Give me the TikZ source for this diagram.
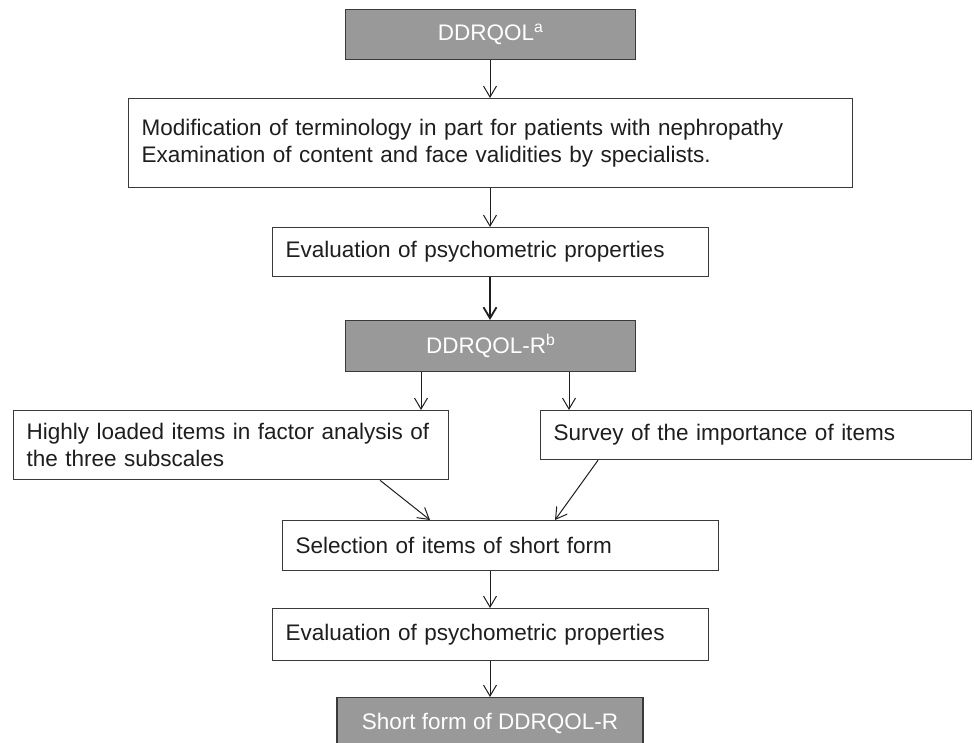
\documentclass[tikz,border=0pt]{standalone}
\usepackage{fontspec}
\setmainfont{Liberation Sans}
\usetikzlibrary{arrows.meta}
\definecolor{boxgray}{HTML}{999999}
\definecolor{edge}{HTML}{3A3A3A}
\definecolor{ink}{HTML}{1E1E1E}
\tikzset{
  box/.style={draw=edge, line width=1.3pt, fill=white, anchor=north west, inner ysep=0pt, inner xsep=13pt,
    text=ink, font=\fontsize{22.5}{27}\selectfont, align=left},
  graybox/.style={draw=edge, line width=1.3pt, fill=boxgray, anchor=north west, inner sep=0pt,
    text=white, font=\fontsize{22.5}{27}\selectfont, align=center},
  arr/.style={draw=ink, line width=1pt, -{Straight Barb[length=11pt,width=13pt]}},
  boldarr/.style={draw=ink, line width=1.8pt, -{Straight Barb[length=11pt,width=13pt]}}
}
\begin{document}
\begin{tikzpicture}[x=1pt,y=-1pt]
\clip (0,0) rectangle (974,743);
\fill[white] (0,0) rectangle (974,743);
% nodes
\node[graybox, minimum width=290pt, minimum height=50pt] (b1) at (345,9) {DDRQOL\textsuperscript{a}};
\node[box, text width=698pt, minimum height=89pt] (b2) at (128,98)
  {Modification of terminology in part for patients with nephropathy\\Examination of content and face validities by specialists.};
\node[box, text width=410pt, minimum height=49pt] (b3) at (272,227) {Evaluation of psychometric properties};
\node[graybox, minimum width=290pt, minimum height=51pt] (b4) at (345,320) {DDRQOL-R\textsuperscript{b}};
\node[box, text width=409pt, minimum height=69pt] (b5) at (13,410)
  {Highly loaded items in factor analysis of\\the three subscales};
\node[box, text width=405pt, minimum height=49pt] (b6) at (540,410) {Survey of the importance of items};
\node[box, text width=410pt, minimum height=50pt] (b7) at (282,520) {Selection of items of short form};
\node[box, text width=410pt, minimum height=52pt] (b8) at (272,608) {Evaluation of psychometric properties};
\node[graybox, minimum width=306pt, minimum height=54pt, anchor=north] (b9) at (490,697) {};
\node[text=white, font=\fontsize{22.5}{27}\selectfont, inner sep=0pt] (t9) at (490,723) {Short form of DDRQOL-R};
% helper x positions
\coordinate (xa) at (490,0);
\coordinate (xl) at (421,0);
\coordinate (xr) at (569,0);
\coordinate (dl1) at (380,0);
\coordinate (dl2) at (430,0);
\coordinate (dr1) at (598,0);
\coordinate (dr2) at (555,0);
% connectors
\draw[arr] (b1.south -| xa) -- (b2.north -| xa);
\draw[arr] (b2.south -| xa) -- (b3.north -| xa);
\draw[boldarr] (b3.south -| xa) -- (b4.north -| xa);
\draw[arr] (b4.south -| xl) -- (b5.north -| xl);
\draw[arr] (b4.south -| xr) -- (b6.north -| xr);
\draw[arr] (b5.south -| dl1) -- (b7.north -| dl2);
\draw[arr] (b6.south -| dr1) -- (b7.north -| dr2);
\draw[arr] (b7.south -| xa) -- (b8.north -| xa);
\draw[arr] (b8.south -| xa) -- (b9.north -| xa);
\end{tikzpicture}
\end{document}
